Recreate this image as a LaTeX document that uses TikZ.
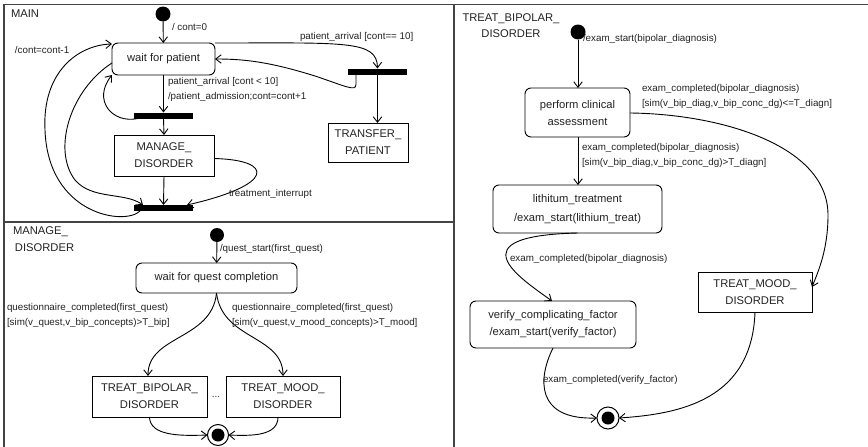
\documentclass[tikz,border=0pt]{standalone}
\usepackage{fontspec}
\setmainfont{Liberation Sans}
\usetikzlibrary{arrows.meta,calc}
\newcommand\statefont{\fontsize{11.2}{17}\selectfont}
\newcommand\lblfont{\fontsize{9.8}{15}\selectfont}
\definecolor{txt}{HTML}{222222}
\definecolor{framecol}{HTML}{444444}
\begin{document}
\begin{tikzpicture}[x=1pt,y=-1pt,
  every node/.style={inner sep=0pt, outer sep=0pt, text=txt},
  frameline/.style={draw=framecol, line width=1.3pt},
  trans/.style={draw=black, line width=0.9pt, -{Straight Barb[length=5.5pt,width=8.5pt,line width=0.9pt]}},
  rstate/.style={draw, line width=0.95pt, rounded corners=6pt, font=\statefont, align=center},
  sstate/.style={draw, line width=0.95pt, font=\statefont, align=center},
  initstate/.style={circle, fill=black, minimum size=15pt},
  finalstate/.style={circle, draw, line width=1pt, minimum size=21pt,
    path picture={\fill[black] (path picture bounding box.center) circle (6.5pt);}},
  forkbar/.style={fill=black, minimum width=59pt, minimum height=6pt},
  lbl/.style={font=\lblfont, anchor=base west},
  title/.style={font=\statefont, anchor=base west},
]
\useasboundingbox (0,0) rectangle (868,447);

% panel frames
\draw[frameline] (4,447) -- (4,4.5) -- (868,4.5);
\draw[frameline] (454,4.5) -- (454,447);
\draw[frameline] (4,222) -- (454,222);

% ---------------- MAIN ----------------
\node[title] (tmain) at (11,17) {MAIN};
\node[initstate] (m0) at (163,14) {};
\node[rstate, minimum width=103pt, minimum height=32pt] (wait) at (163.5,59) {wait for patient};
\node[forkbar] (fr) at (377.5,71.5) {};
\node[forkbar] (fm) at (163.5,115.5) {};
\node[sstate, minimum width=100pt, minimum height=41pt] (manage) at (164,155.5) {MANAGE\_\\DISORDER};
\node[forkbar] (fb) at (163.5,208) {};
\node[sstate, minimum width=80pt, minimum height=39pt] (transfer) at (368,142.5) {TRANSFER\_\\PATIENT};

\draw[trans] (m0) -- (wait);
\node[lbl] (l1) at (172,30.5) {/ cont=0};

\draw[trans] (wait.north east) .. controls (345,43) and (377,40) .. (fr.north);
\node[lbl] (l2) at (300,39.5) {patient\_arrival [cont== 10]};

\draw[trans] ([xshift=8pt]fr.south west) -- ++(0,10)
  .. controls (356,92) and (345,86) .. (315,76)
  .. controls (270,62) and (245,59) .. (wait.east);
\draw[trans] (fr.south) -- (fr.south |- transfer.north);

\draw[trans] (wait.south) -- (fm.north);
\node[lbl] (l3) at (168,84.5) {patient\_arrival [cont < 10]};
\node[lbl] (l4) at (168,99.5) {/patient\_admission;cont=cont+1};

\draw[trans] ([xshift=4pt]fm.south west) .. controls (112,124) and (92,100) .. (wait.south west);

\draw[trans] (fm.south) -- (manage.north);
\draw[trans] (manage.south) -- (fb.north);

\draw[trans] ($(manage.east)+(0,3)$) .. controls (275,160) and (275,185) .. ([xshift=-6pt]fb.north east);
\node[lbl] (l5) at (229,196.5) {treatment\_interrupt};

\draw[trans] ($(wait.west)+(0,4)$) .. controls (70,90) and (52,150) .. (75,180)
  .. controls (92,200) and (125,192) .. ([xshift=9pt]fb.north west);

\draw[trans] ([xshift=6pt]fb.south west) .. controls (125,226) and (48,215) .. (45,130)
  .. controls (42,72) and (78,45) .. ($(wait.north west)+(0,1)$);
\node[lbl] (l6) at (15,53.5) {/cont=cont-1};

% ---------------- MANAGE_DISORDER ----------------
\node[title] (tman1) at (13,234) {MANAGE\_};
\node[title] (tman2) at (15,251) {DISORDER};
\node[initstate, minimum size=14pt] (q0) at (217,235) {};
\node[rstate, minimum width=161pt, minimum height=30pt] (wq) at (216.5,278) {wait for quest completion};
\node[sstate, minimum width=115pt, minimum height=41pt] (tb) at (149.5,396.5) {TREAT\_BIPOLAR\_\\DISORDER};
\node[sstate, minimum width=114pt, minimum height=41pt] (tm) at (283,396.5) {TREAT\_MOOD\_\\DISORDER};
\node[font=\lblfont, anchor=base] (dots) at (216,397) {...};
\node[finalstate] (qf) at (218,435) {};

\draw[trans] (q0) -- (wq);
\node[lbl] (l7) at (220,251.5) {/quest\_start(first\_quest)};

\draw[trans] (wq.south) .. controls (212,340) and (148,335) .. (tb.north -| 148,0);
\draw[trans] (wq.south) .. controls (222,340) and (283,335) .. (tm.north -| 283,0);
\node[lbl] (l8) at (7,310.5) {questionnaire\_completed(first\_quest)};
\node[lbl] (l9) at (7,325.5) {[sim(v\_quest,v\_bip\_concepts)>T\_bip]};
\node[lbl] (l10) at (232,310.5) {questionnaire\_completed(first\_quest)};
\node[lbl] (l11) at (232,325.5) {[sim(v\_quest,v\_mood\_concepts)>T\_mood]};

\draw[trans] (tb.south) .. controls (150,436) and (180,436) .. (qf.west);
\draw[trans] ([xshift=-5pt]tm.south) .. controls (278,436) and (252,436) .. (qf.east);

% ---------------- TREAT_BIPOLAR_DISORDER ----------------
\node[font=\statefont, anchor=base] (tbd1) at (511,21) {TREAT\_BIPOLAR\_};
\node[font=\statefont, anchor=base] (tbd2) at (511,37) {DISORDER};
\node[initstate] (b0) at (578,32) {};
\node[rstate, minimum width=105pt, minimum height=49pt] (pca) at (577.5,112.5) {perform clinical\\assessment};
\node[rstate, minimum width=169pt, minimum height=48pt, font=\fontsize{11.2}{19.5}\selectfont] (lith) at (577.5,209) {lithitum\_treatment\\/exam\_start(lithium\_treat)};
\node[rstate, minimum width=166pt, minimum height=47pt] (verify) at (553,324.5) {verify\_complicating\_factor\\/exam\_start(verify\_factor)};
\node[sstate, minimum width=114pt, minimum height=40pt] (tmr) at (755,292) {TREAT\_MOOD\_\\DISORDER};
\node[finalstate, minimum size=22pt] (bf) at (608,418) {};

\draw[trans] (b0) -- (b0 |- pca.north);
\node[lbl] (l12) at (583,41.5) {/exam\_start(bipolar\_diagnosis)};

\draw[trans] (pca.south -| b0) -- (b0 |- lith.north);
\node[lbl] (l13) at (582,150.5) {exam\_completed(bipolar\_diagnosis)};
\node[lbl] (l14) at (582,165.5) {[sim(v\_bip\_diag,v\_bip\_conc\_dg)>T\_diagn]};

\draw[trans] ($(pca.east)+(0,0.5)$) .. controls (720,114) and (828,145) .. (828,215)
  .. controls (828,250) and (818,272) .. (tmr.5);
\node[lbl] (l15) at (642,91.5) {exam\_completed(bipolar\_diagnosis)};
\node[lbl] (l16) at (642,106.5) {[sim(v\_bip\_diag,v\_bip\_conc\_dg)<=T\_diagn]};

\draw[trans] (lith.south) .. controls (455,236) and (520,278) .. (verify.north -| 552,0);
\node[lbl] (l17) at (510,261.5) {exam\_completed(bipolar\_diagnosis)};

\draw[trans] (verify.south) .. controls (538,378) and (535,420) .. (bf.west);
\node[lbl] (l18) at (543,382.5) {exam\_completed(verify\_factor)};

\draw[trans] (tmr.south) .. controls (752,400) and (680,414) .. (bf.east);
\end{tikzpicture}
\end{document}
